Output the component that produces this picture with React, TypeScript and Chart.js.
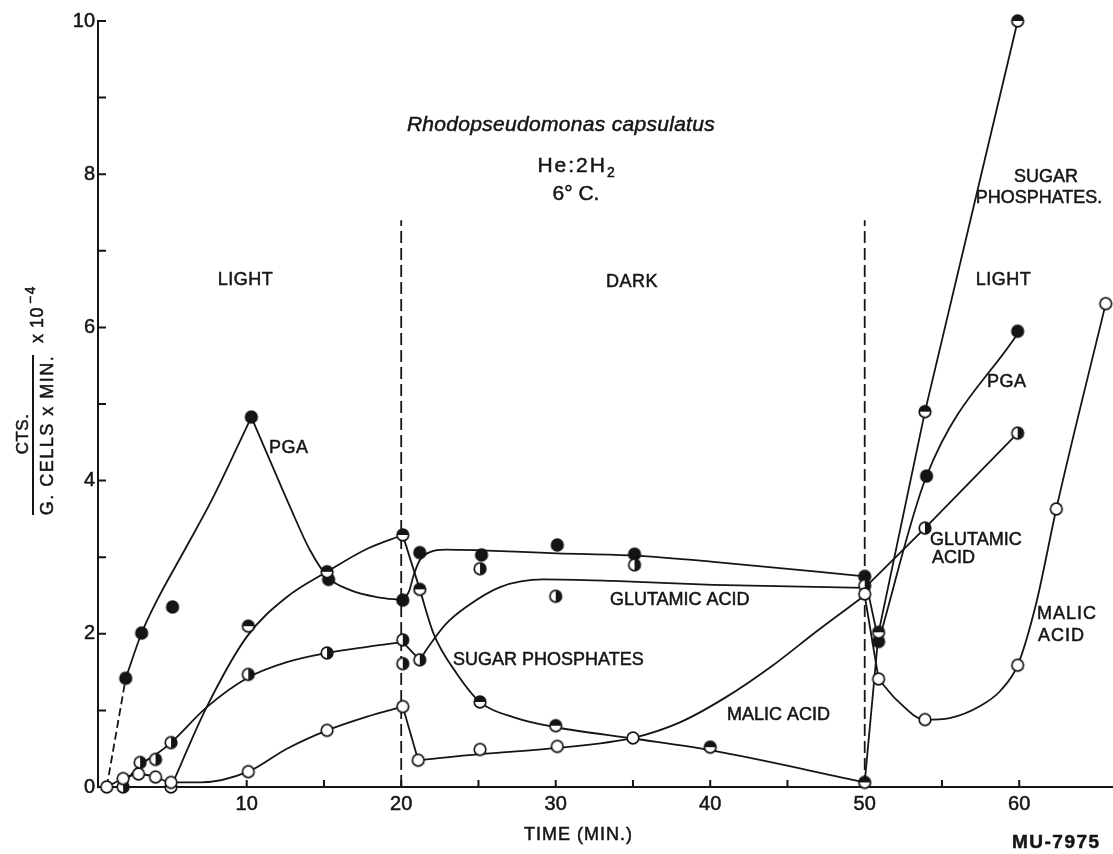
import React, { useEffect, useRef } from "react";
import { Chart, registerables } from "chart.js";

Chart.register(...registerables);

// ---------------- axes ----------------
const xMin = 0.375;
const xMax = 66.07;
const yMin = 0;
const yMax = 10;
const xTickLabels = [10, 20, 30, 40, 50, 60];
const yTickLabels = [0, 2, 4, 6, 8, 10];
const xTickMarks = [5, 10, 15, 20, 25, 30, 35, 40, 45, 50, 55, 60];
const yTickMarks = [1, 2, 3, 4, 5, 6, 7, 8, 9, 10];
const phaseBoundaryTimes = [20, 50];
const phaseBoundaryTop = 7.4;

// ---------------- measured points ----------------
const pgaTimes = [2.17, 3.2, 5.2, 10.3, 15.3, 20.1, 21.2, 25.2, 30.1, 35.1, 50.0, 50.9, 54.0, 59.9];
const pgaValues = [1.42, 2.01, 2.35, 4.83, 2.71, 2.44, 3.06, 3.03, 3.16, 3.04, 2.75, 1.9, 4.06, 5.95];

const sugarTimes = [5.1, 10.1, 15.2, 20.1, 21.2, 25.1, 30.0, 40.0, 50.0, 50.9, 53.9, 59.9];
const sugarValues = [0.0, 2.1, 2.81, 3.29, 2.58, 1.11, 0.8, 0.52, 0.06, 2.02, 4.9, 10.0];

const glutamicTimes = [2.0, 3.1, 4.1, 5.1, 10.1, 15.2, 20.1, 20.1, 21.2, 25.1, 30.0, 35.1, 50.0, 53.9, 59.9];
const glutamicValues = [0.0, 0.32, 0.36, 0.58, 1.47, 1.75, 1.92, 1.61, 1.66, 2.85, 2.49, 2.9, 2.63, 3.38, 4.62];

const malicTimes = [0.94, 2.0, 3.0, 4.1, 5.1, 10.1, 15.2, 20.1, 21.1, 25.1, 30.1, 35.0, 50.0, 50.9, 53.9, 59.9, 62.4, 65.6];
const malicValues = [0.0, 0.11, 0.17, 0.13, 0.06, 0.2, 0.74, 1.05, 0.35, 0.49, 0.53, 0.64, 2.52, 1.41, 0.88, 1.59, 3.63, 6.31];

// ---------------- hand-drawn fitted curves ----------------
const pgaFitDashedT = [0.94, 2.17];
const pgaFitDashedV = [0.0, 1.42];
const pgaFitRiseT = [2.17, 3.2, 4.2, 6.0, 7.8, 10.3];
const pgaFitRiseV = [1.42, 2.01, 2.44, 3.1, 3.77, 4.83];
const pgaFitFallT = [10.3, 11.3, 12.8, 14.1, 15.3, 16.7, 18.4, 20.1];
const pgaFitFallV = [4.83, 4.36, 3.66, 3.09, 2.73, 2.57, 2.48, 2.44];
const pgaFitDarkT = [20.1, 20.5, 20.8, 21.2, 21.9, 22.9, 25.1, 30.1, 35.1, 40.2, 50.0];
const pgaFitDarkV = [2.44, 2.55, 2.76, 2.96, 3.07, 3.1, 3.09, 3.05, 3.02, 2.94, 2.75];
const pgaFitDropT = [50.0, 50.9];
const pgaFitDropV = [2.75, 1.9];
const pgaFitLightT = [50.9, 54.0, 60.0];
const pgaFitLightV = [1.9, 4.06, 5.95];

const sugarFitRiseT = [5.1, 7.4, 10.0, 12.6, 15.2, 17.8, 20.1];
const sugarFitRiseV = [0.0, 1.04, 1.96, 2.48, 2.81, 3.11, 3.29];
const sugarFitFallT = [20.1, 21.2, 22.1, 23.6, 25.1, 27.3, 30.0, 35.1, 40.0, 50.0];
const sugarFitFallV = [3.29, 2.58, 2.0, 1.48, 1.11, 0.91, 0.78, 0.63, 0.48, 0.06];
const sugarFitLightT = [50.0, 50.9, 53.9, 59.9];
const sugarFitLightV = [0.06, 2.02, 4.9, 10.0];

const glutFitRiseT = [2.0, 3.1, 4.1, 5.1, 7.4, 10.1, 12.6, 15.2, 17.8, 20.1];
const glutFitRiseV = [0.03, 0.29, 0.42, 0.58, 1.04, 1.43, 1.63, 1.75, 1.83, 1.89];
const glutFitDipT = [20.1, 21.2];
const glutFitDipV = [1.89, 1.66];
const glutFitDarkT = [21.2, 21.9, 22.9, 24.2, 26.4, 29.2, 33.7, 40.2, 50.0];
const glutFitDarkV = [1.66, 1.87, 2.13, 2.35, 2.61, 2.71, 2.69, 2.64, 2.6];
const glutFitLightT = [50.0, 53.9, 59.9];
const glutFitLightV = [2.6, 3.38, 4.62];

const malicFitEarlyT = [0.94, 2.0, 3.0, 4.1, 5.1, 7.0, 10.1, 12.6, 15.2, 17.8, 20.1];
const malicFitEarlyV = [0.0, 0.11, 0.17, 0.13, 0.06, 0.06, 0.2, 0.5, 0.74, 0.92, 1.05];
const malicFitDipT = [20.1, 21.1];
const malicFitDipV = [1.05, 0.35];
const malicFitDarkT = [21.1, 25.1, 30.1, 35.0, 38.0, 41.0, 44.0, 47.0, 50.0];
const malicFitDarkV = [0.35, 0.43, 0.51, 0.64, 0.84, 1.17, 1.58, 2.05, 2.5];
const malicFitDropT = [50.0, 50.9];
const malicFitDropV = [2.5, 1.41];
const malicFitLightT = [50.9, 52.1, 53.9, 55.5, 57.5, 58.8, 59.9, 61.1, 62.4, 65.6];
const malicFitLightV = [1.41, 1.13, 0.88, 0.9, 1.06, 1.26, 1.59, 2.4, 3.63, 6.31];

// ---------------- text annotations (data coordinates) ----------------
const FAMILY = "'Liberation Sans', Arial, sans-serif";
const INK = "#151515";

type Note = {
  text: string;
  x: number;
  y: number;
  align: CanvasTextAlign;
  font: string;
  spacing?: number;
  sub?: string;
};

const notes: Note[] = [
  { text: "Rhodopseudomonas capsulatus", x: 30.34, y: 8.56, align: "center", font: `italic 21px ${FAMILY}`, spacing: 0.3 },
  { text: "He:2H", sub: "2", x: 31.38, y: 8.03, align: "center", font: `21px ${FAMILY}`, spacing: 2 },
  { text: "6° C.", x: 31.31, y: 7.66, align: "center", font: `21px ${FAMILY}` },
  { text: "LIGHT", x: 9.92, y: 6.55, align: "center", font: `18px ${FAMILY}`, spacing: 0.5 },
  { text: "DARK", x: 34.94, y: 6.53, align: "center", font: `18px ${FAMILY}`, spacing: 0.5 },
  { text: "LIGHT", x: 58.98, y: 6.55, align: "center", font: `18px ${FAMILY}`, spacing: 0.5 },
  { text: "SUGAR", x: 61.73, y: 7.9, align: "center", font: `18px ${FAMILY}` },
  { text: "PHOSPHATES.", x: 61.28, y: 7.62, align: "center", font: `18px ${FAMILY}` },
  { text: "PGA", x: 11.44, y: 4.36, align: "left", font: `18px ${FAMILY}`, spacing: 0.5 },
  { text: "PGA", x: 57.92, y: 5.22, align: "left", font: `18px ${FAMILY}`, spacing: 0.5 },
  { text: "GLUTAMIC ACID", x: 33.51, y: 2.38, align: "left", font: `18px ${FAMILY}` },
  { text: "SUGAR PHOSPHATES", x: 23.35, y: 1.59, align: "left", font: `18px ${FAMILY}` },
  { text: "MALIC ACID", x: 41.09, y: 0.875, align: "left", font: `18px ${FAMILY}` },
  { text: "GLUTAMIC", x: 54.23, y: 3.16, align: "left", font: `18px ${FAMILY}` },
  { text: "ACID", x: 54.36, y: 2.92, align: "left", font: `18px ${FAMILY}` },
  { text: "MALIC", x: 61.15, y: 2.19, align: "left", font: `18px ${FAMILY}`, spacing: 1 },
  { text: "ACID", x: 61.22, y: 1.91, align: "left", font: `18px ${FAMILY}`, spacing: 1 },
  { text: "TIME (MIN.)", x: 31.47, y: -0.69, align: "center", font: `18px ${FAMILY}`, spacing: 1 },
  { text: "MU-7975", x: 59.53, y: -0.8, align: "left", font: `bold 19px ${FAMILY}`, spacing: 1.5 },
];

// ---------------- helpers ----------------
const xy = (t: number[], v: number[]) => t.map((x, i) => ({ x, y: v[i] }));

function makeMarker(kind: "filled" | "open" | "halfTop" | "halfRight"): HTMLCanvasElement {
  const s = 16;
  const c = document.createElement("canvas");
  c.width = s;
  c.height = s;
  const g = c.getContext("2d")!;
  const cx = s / 2;
  const cy = s / 2;
  const r = 5.8;
  g.beginPath();
  g.arc(cx, cy, r, 0, Math.PI * 2);
  g.fillStyle = kind === "filled" ? INK : "#ffffff";
  g.fill();
  if (kind === "halfTop" || kind === "halfRight") {
    g.beginPath();
    if (kind === "halfTop") g.arc(cx, cy, r, Math.PI, Math.PI * 2);
    else g.arc(cx, cy, r, -Math.PI / 2, Math.PI / 2);
    g.closePath();
    g.fillStyle = INK;
    g.fill();
  }
  g.beginPath();
  g.arc(cx, cy, r, 0, Math.PI * 2);
  g.lineWidth = 1.7;
  g.strokeStyle = INK;
  g.stroke();
  return c;
}

function curve(label: string, t: number[], v: number[], smooth: boolean, dash: number[] = []) {
  return {
    type: "line" as const,
    label,
    data: xy(t, v),
    borderColor: INK,
    borderWidth: 1.8,
    borderDash: dash,
    pointRadius: 0,
    pointHoverRadius: 0,
    fill: false,
    tension: 0,
    cubicInterpolationMode: smooth ? ("monotone" as const) : ("default" as const),
    clip: false as const,
    order: 2,
  };
}

function markers(label: string, t: number[], v: number[], style: HTMLCanvasElement) {
  return {
    type: "line" as const,
    label,
    data: xy(t, v),
    showLine: false,
    pointStyle: style,
    pointRadius: 6,
    pointHoverRadius: 6,
    clip: false as const,
    order: 0,
  };
}

const innerTicksPlugin = {
  id: "innerTicks",
  beforeDatasetsDraw(chart: any) {
    const { ctx, scales, chartArea } = chart;
    ctx.save();
    ctx.strokeStyle = INK;
    ctx.lineWidth = 2;
    ctx.beginPath();
    xTickMarks.forEach((v) => {
      const px = scales.x.getPixelForValue(v);
      ctx.moveTo(px, chartArea.bottom);
      ctx.lineTo(px, chartArea.bottom - 7);
    });
    yTickMarks.forEach((v) => {
      const py = scales.y.getPixelForValue(v);
      ctx.moveTo(chartArea.left, py);
      ctx.lineTo(chartArea.left + 8, py);
    });
    ctx.stroke();
    ctx.restore();
  },
};

const notesPlugin = {
  id: "notes",
  afterDraw(chart: any) {
    const { ctx, scales } = chart;
    ctx.save();
    ctx.fillStyle = INK;
    ctx.strokeStyle = INK;
    ctx.lineWidth = 0.5;
    ctx.textBaseline = "alphabetic";
    const put = (text: string, x: number, y: number) => {
      ctx.fillText(text, x, y);
      ctx.strokeText(text, x, y);
    };
    notes.forEach((n) => {
      const px = scales.x.getPixelForValue(n.x);
      const py = scales.y.getPixelForValue(n.y);
      ctx.font = n.font;
      (ctx as any).letterSpacing = `${n.spacing ?? 0}px`;
      if (n.sub) {
        const w = ctx.measureText(n.text).width;
        ctx.font = `14px ${FAMILY}`;
        const ws = ctx.measureText(n.sub).width;
        const start = px - (w + ws) / 2;
        ctx.font = n.font;
        ctx.textAlign = "left";
        put(n.text, start, py);
        ctx.font = `14px ${FAMILY}`;
        put(n.sub, start + w, py + 5);
      } else {
        ctx.textAlign = n.align;
        put(n.text, px, py);
      }
    });
    (ctx as any).letterSpacing = "0px";

    // y-axis title: CTS. / (G. CELLS x MIN.) x 10^-4, rotated
    const rot = (text: string, x: number, y: number, font: string, align: CanvasTextAlign, spacing = 0) => {
      ctx.save();
      ctx.translate(x, y);
      ctx.rotate(-Math.PI / 2);
      ctx.font = font;
      (ctx as any).letterSpacing = `${spacing}px`;
      ctx.textAlign = align;
      put(text, 0, 0);
      ctx.restore();
    };
    rot("CTS.", 28, 434, `17px ${FAMILY}`, "center", 0.5);
    ctx.lineWidth = 2;
    ctx.beginPath();
    ctx.moveTo(33, 355);
    ctx.lineTo(33, 515);
    ctx.stroke();
    ctx.lineWidth = 0.5;
    rot("G. CELLS x MIN.", 53, 435, `18px ${FAMILY}`, "center", 1.5);
    rot("x 10", 43, 343, `18px ${FAMILY}`, "left", 0.5);
    rot("\u22124", 35, 304, `14px ${FAMILY}`, "left", 1.5);
    ctx.restore();
  },
};

export default function App() {
  const ref = useRef<HTMLCanvasElement>(null);

  useEffect(() => {
    document.body.style.margin = "0";
    const canvas = ref.current;
    if (!canvas) return;

    const filled = makeMarker("filled");
    const open = makeMarker("open");
    const halfTop = makeMarker("halfTop");
    const halfRight = makeMarker("halfRight");

    const boundaryDatasets = phaseBoundaryTimes.map((t) =>
      curve(`boundary ${t}`, [t, t], [0, phaseBoundaryTop], false, [12, 5])
    );

    const chart = new Chart(canvas, {
      type: "line",
      data: {
        datasets: [
          ...boundaryDatasets,
          curve("PGA start", pgaFitDashedT, pgaFitDashedV, false, [8, 4]),
          curve("PGA rise", pgaFitRiseT, pgaFitRiseV, true),
          curve("PGA fall", pgaFitFallT, pgaFitFallV, true),
          curve("PGA dark", pgaFitDarkT, pgaFitDarkV, true),
          curve("PGA drop", pgaFitDropT, pgaFitDropV, false),
          curve("PGA light", pgaFitLightT, pgaFitLightV, true),
          curve("Sugar rise", sugarFitRiseT, sugarFitRiseV, true),
          curve("Sugar fall", sugarFitFallT, sugarFitFallV, true),
          curve("Sugar light", sugarFitLightT, sugarFitLightV, false),
          curve("Glutamic rise", glutFitRiseT, glutFitRiseV, true),
          curve("Glutamic dip", glutFitDipT, glutFitDipV, false),
          curve("Glutamic dark", glutFitDarkT, glutFitDarkV, true),
          curve("Glutamic light", glutFitLightT, glutFitLightV, false),
          curve("Malic early", malicFitEarlyT, malicFitEarlyV, true),
          curve("Malic dip", malicFitDipT, malicFitDipV, false),
          curve("Malic dark", malicFitDarkT, malicFitDarkV, true),
          curve("Malic drop", malicFitDropT, malicFitDropV, false),
          curve("Malic light", malicFitLightT, malicFitLightV, true),
          markers("Malic acid", malicTimes, malicValues, open),
          markers("Glutamic acid", glutamicTimes, glutamicValues, halfRight),
          markers("Sugar phosphates", sugarTimes, sugarValues, halfTop),
          markers("PGA", pgaTimes, pgaValues, filled),
        ] as any,
      },
      options: {
        responsive: false,
        animation: false,
        events: [],
        layout: { autoPadding: false, padding: { top: 21, left: 0, right: 0, bottom: 0 } },
        plugins: {
          legend: { display: false },
          tooltip: { enabled: false },
        },
        scales: {
          x: {
            type: "linear",
            min: xMin,
            max: xMax,
            afterBuildTicks: (s: any) => {
              s.ticks = xTickLabels.map((v) => ({ value: v }));
            },
            afterFit: (s: any) => {
              s.height = 67;
            },
            grid: { display: false, drawTicks: false },
            border: { display: true, color: INK, width: 2 },
            ticks: {
              color: INK,
              font: { family: FAMILY, size: 20 },
              padding: 5,
              maxRotation: 0,
              autoSkip: false,
              textStrokeColor: INK,
              textStrokeWidth: 0.5,
            },
          },
          y: {
            type: "linear",
            min: yMin,
            max: yMax,
            afterBuildTicks: (s: any) => {
              s.ticks = yTickLabels.map((v) => ({ value: v }));
            },
            afterFit: (s: any) => {
              s.width = 98;
            },
            grid: { display: false, drawTicks: false },
            border: { display: true, color: INK, width: 2 },
            ticks: {
              color: INK,
              font: { family: FAMILY, size: 20 },
              padding: 3,
              autoSkip: false,
              textStrokeColor: INK,
              textStrokeWidth: 0.5,
            },
          },
        },
      },
      plugins: [innerTicksPlugin, notesPlugin],
    } as any);

    return () => chart.destroy();
  }, []);

  return (
    <div style={{ position: "absolute", left: 0, top: 0, width: 1113, height: 854, background: "#fff" }}>
      <canvas ref={ref} width={1113} height={854} style={{ display: "block" }} />
    </div>
  );
}
